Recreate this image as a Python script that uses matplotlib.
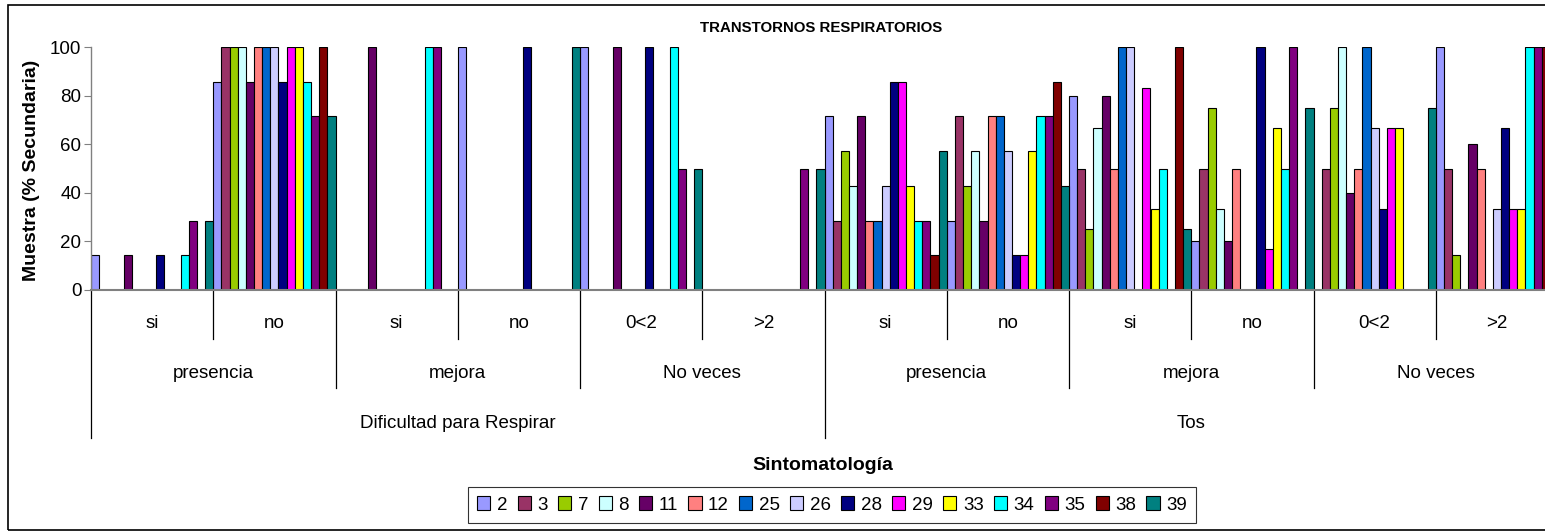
import matplotlib
matplotlib.use("Agg")
import matplotlib.pyplot as plt
from matplotlib.patches import Rectangle, Patch
import numpy as np

plt.rcParams['font.family'] = ['Liberation Sans', 'DejaVu Sans']

# --- data ---
series = ["2", "3", "7", "8", "11", "12", "25", "26", "28", "29", "33", "34", "35", "38", "39"]
colors = ["#9999FF", "#993366", "#99CC00", "#CCFFFF", "#660066", "#FF8080", "#0066CC",
          "#CCCCFF", "#000080", "#FF00FF", "#FFFF00", "#00FFFF", "#800080", "#800000", "#008080"]

level1 = ["si", "no", "si", "no", "0<2", ">2", "si", "no", "si", "no", "0<2", ">2"]
level2 = ["presencia", "mejora", "No veces", "presencia", "mejora", "No veces"]
level3 = ["Dificultad para Respirar", "Tos"]

# one row per category (12), one column per series (15)
values = [
    [14.3, 0, 0, 0, 14.3, 0, 0, 0, 14.3, 0, 0, 14.3, 28.6, 0, 28.6],
    [85.7, 100, 100, 100, 85.7, 100, 100, 100, 85.7, 100, 100, 85.7, 71.4, 100, 71.4],
    [0, 0, 0, 0, 100, 0, 0, 0, 0, 0, 0, 100, 100, 0, 0],
    [100, 0, 0, 0, 0, 0, 0, 0, 100, 0, 0, 0, 0, 0, 100],
    [100, 0, 0, 0, 100, 0, 0, 0, 100, 0, 0, 100, 50, 0, 50],
    [0, 0, 0, 0, 0, 0, 0, 0, 0, 0, 0, 0, 50, 0, 50],
    [71.4, 28.6, 57.1, 42.9, 71.4, 28.6, 28.6, 42.9, 85.7, 85.7, 42.9, 28.6, 28.6, 14.3, 57.1],
    [28.6, 71.4, 42.9, 57.1, 28.6, 71.4, 71.4, 57.1, 14.3, 14.3, 57.1, 71.4, 71.4, 85.7, 42.9],
    [80, 50, 25, 66.7, 80, 50, 100, 100, 0, 83.3, 33.3, 50, 0, 100, 25],
    [20, 50, 75, 33.3, 20, 50, 0, 0, 100, 16.7, 66.7, 50, 100, 0, 75],
    [0, 50, 75, 100, 40, 50, 100, 66.7, 33.3, 66.7, 66.7, 0, 0, 0, 75],
    [100, 50, 14.3, 0, 60, 50, 0, 33.3, 66.7, 33.3, 33.3, 100, 100, 100, 0],
]

W, H = 1545, 531
fig = plt.figure(figsize=(W / 100, H / 100), dpi=100)

# plot area in pixel coords (cropped at right edge like the original)
px_left, px_right, px_top, px_bot = 91, 1558, 47, 290
ax = fig.add_axes([px_left / W, 1 - px_bot / H, (px_right - px_left) / W, (px_bot - px_top) / H])

vals = np.array(values)
ncat, nser = vals.shape
bw = 1.0 / nser
for i in range(nser):
    x = np.arange(ncat) + (i + 0.5) * bw
    ax.bar(x, vals[:, i], width=bw, color=colors[i], edgecolor="black", linewidth=0.8)

ax.set_xlim(0, ncat)
ax.set_ylim(0, 100)
ax.set_yticks(range(0, 101, 20))
ax.tick_params(axis="y", labelsize=13.5, length=5, color="#808080", direction="out", pad=2)
ax.set_xticks([])
for s in ["top", "right"]:
    ax.spines[s].set_visible(False)
ax.spines["left"].set_color("#808080")
ax.spines["bottom"].set_color("#808080")
ax.spines["left"].set_linewidth(1.0)
ax.spines["bottom"].set_linewidth(1.5)

# multi-level category axis
def yfig(py):
    return 1 - py / H

trans = ax.get_xaxis_transform()
def ax_y(py):
    return (px_bot - py) / (px_bot - px_top)

for g, lab in enumerate(level1):
    ax.text(g + 0.5, ax_y(323), lab, transform=trans, ha="center", va="center", fontsize=13.5)
for g, lab in enumerate(level2):
    ax.text(2 * g + 1, ax_y(374), lab, transform=trans, ha="center", va="center", fontsize=13.5)
for g, lab in enumerate(level3):
    ax.text(6 * g + 3, ax_y(423), lab, transform=trans, ha="center", va="center", fontsize=13.5)

for b in range(ncat + 1):
    if b % 6 == 0:
        end = 438
    elif b % 2 == 0:
        end = 388
    else:
        end = 339
    ax.plot([b, b], [0, ax_y(end)], transform=trans, color="black", lw=0.9, clip_on=False)

# titles
fig.text(821 / W, yfig(28), "TRANSTORNOS RESPIRATORIOS", ha="center", va="center",
         fontsize=10.8, fontweight="bold")
fig.text(823 / W, yfig(466), "Sintomatología", ha="center", va="center",
         fontsize=14, fontweight="bold")
fig.text(32 / W, yfig(170), "Muestra (% Secundaria)", ha="center", va="center",
         rotation=90, fontsize=14, fontweight="bold")

# legend
handles = [Patch(facecolor=c, edgecolor="black", linewidth=0.8) for c in colors]
leg = fig.legend(handles, series, loc="center", bbox_to_anchor=(832 / W, yfig(505)),
                 ncol=nser, fontsize=13.5, frameon=True, fancybox=False,
                 handlelength=0.7, handleheight=0.7, handletextpad=0.35,
                 columnspacing=0.55, borderpad=0.5, borderaxespad=0)
leg.get_frame().set_edgecolor("black")
leg.get_frame().set_linewidth(0.8)

# outer chart border
fig.add_artist(Rectangle((8 / W, 1 / H), 1.2, (H - 6) / H, transform=fig.transFigure,
                         fill=False, edgecolor="black", linewidth=1.2))

fig.savefig("out.png", dpi=100)
